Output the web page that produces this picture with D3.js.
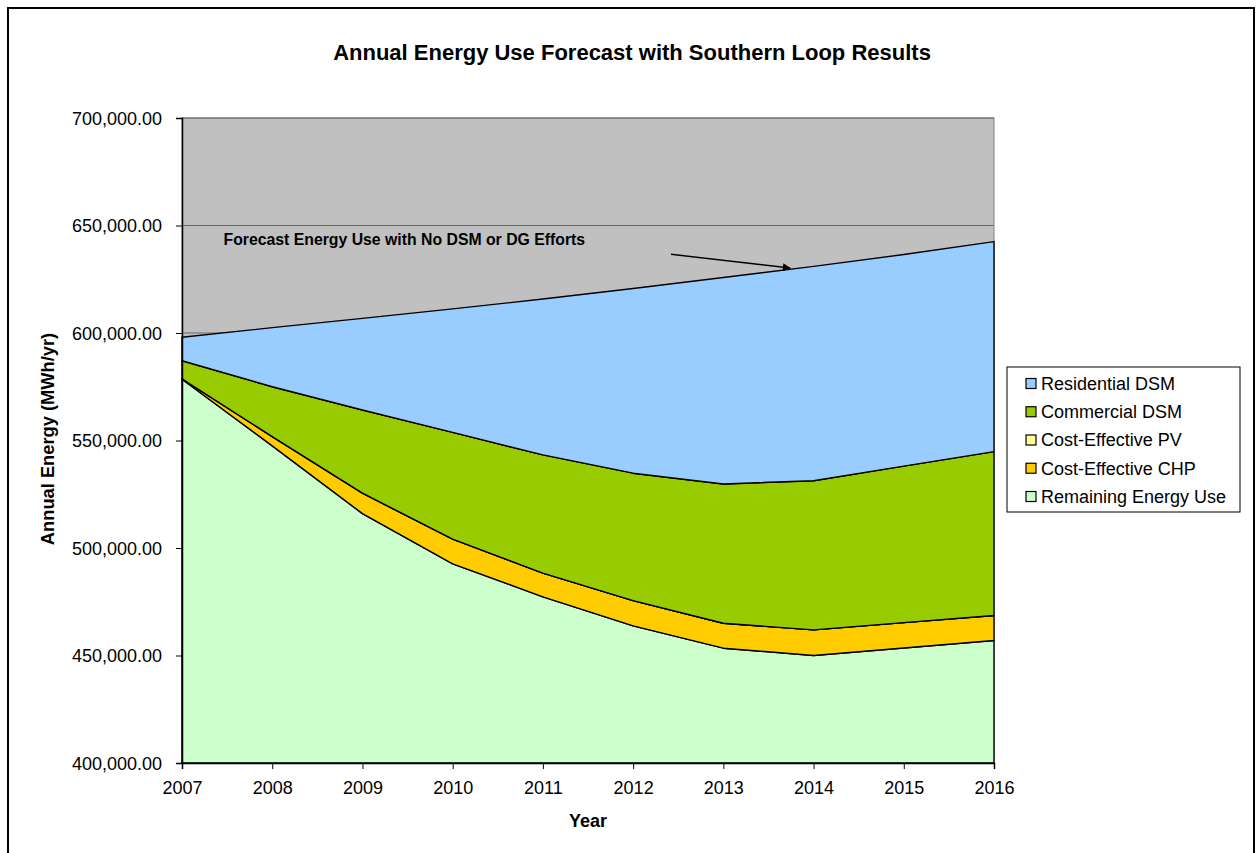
<!DOCTYPE html>
<html>
<head>
<meta charset="utf-8">
<script src="https://cdn.jsdelivr.net/npm/d3@7"></script>
<style>
  html, body { margin: 0; padding: 0; background: #fff; }
  svg { display: block; font-family: "Liberation Sans", Arial, sans-serif; }
</style>
</head>
<body>
<svg id="chart" width="1256" height="853"></svg>
<script>
// ---- data (MWh/yr, thousands) ----
const years = [2007, 2008, 2009, 2010, 2011, 2012, 2013, 2014, 2015, 2016];
const remainingEnergyUse = [578.5, 547.5, 516.0, 492.6, 477.3, 463.8, 453.4, 450.0, 453.5, 457.0];
const costEffectiveCHP   = [0.2, 4.3, 9.5, 11.5, 11.0, 11.7, 11.6, 11.9, 11.8, 11.6];
const costEffectivePV    = [0, 0, 0, 0, 0, 0, 0, 0, 0, 0];
const commercialDSM      = [8.4, 23.2, 38.7, 49.7, 55.0, 59.3, 64.8, 69.4, 72.8, 76.2];
const residentialDSM     = [10.9, 27.5, 42.6, 57.4, 72.5, 85.9, 96.0, 99.7, 98.4, 97.7];
const seriesNames  = ["Remaining Energy Use", "Cost-Effective CHP", "Cost-Effective PV", "Commercial DSM", "Residential DSM"];
const seriesColors = ["#CCFFCC", "#FFCC00", "#FFFF99", "#99CC00", "#99CCFF"];
const legendOrder  = ["Residential DSM", "Commercial DSM", "Cost-Effective PV", "Cost-Effective CHP", "Remaining Energy Use"];
const yTicks = [400, 450, 500, 550, 600, 650, 700];
const chartTitle = "Annual Energy Use Forecast with Southern Loop Results";
const yTitle = "Annual Energy (MWh/yr)";
const xTitle = "Year";
const annotationText = "Forecast Energy Use with No DSM or DG Efforts";
const annotationAnchor = [2007.46, 641];           // text start (year, value)
const arrowFrom = [2012.42, 636.6];
const arrowTo   = [2013.74, 630.2];

// ---- layout ----
const svg = d3.select("#chart");
const plot = { left: 182, right: 994, top: 118, bottom: 763 };

const x = d3.scaleLinear().domain([years[0], years[years.length - 1]]).range([plot.left, plot.right]);
const y = d3.scaleLinear().domain([400, 700]).range([plot.bottom, plot.top]);

// outer border
svg.append("rect").attr("x", 8).attr("y", 8).attr("width", 1246).attr("height", 870)
  .attr("fill", "#fff").attr("stroke", "#000").attr("stroke-width", 2);

// plot background
svg.append("rect").attr("x", plot.left).attr("y", plot.top)
  .attr("width", plot.right - plot.left).attr("height", plot.bottom - plot.top)
  .attr("fill", "#C0C0C0").attr("stroke", "#808080").attr("stroke-width", 1);

// gridlines
svg.append("g").selectAll("line").data(yTicks.slice(1)).join("line")
  .attr("x1", plot.left).attr("x2", plot.right)
  .attr("y1", d => y(d)).attr("y2", d => y(d))
  .attr("stroke", "#666").attr("stroke-width", 1);

// stack
const table = years.map((yr, i) => ({
  year: yr,
  "Remaining Energy Use": remainingEnergyUse[i],
  "Cost-Effective CHP": costEffectiveCHP[i],
  "Cost-Effective PV": costEffectivePV[i],
  "Commercial DSM": commercialDSM[i],
  "Residential DSM": residentialDSM[i]
}));
const stacked = d3.stack().keys(seriesNames)(table);
const color = d3.scaleOrdinal().domain(seriesNames).range(seriesColors);

const area = d3.area()
  .x(d => x(d.data.year))
  .y0(d => y(d[0]))
  .y1(d => y(d[1]));

// first series base is the axis floor
const areaBottom = d3.area()
  .x(d => x(d.data.year))
  .y0(() => y(400))
  .y1(d => y(d[1]));

svg.append("g").selectAll("path").data(stacked).join("path")
  .attr("d", (s, i) => i === 0 ? areaBottom(s) : area(s))
  .attr("fill", s => color(s.key))
  .attr("stroke", "#000").attr("stroke-width", 1.4)
  .attr("stroke-linejoin", "round");

// axes
const yAxis = d3.axisLeft(y).tickValues(yTicks).tickSize(6).tickPadding(14)
  .tickFormat(d => d3.format(",.2f")(d * 1000));
const gy = svg.append("g").attr("transform", `translate(${plot.left},0)`).call(yAxis);
gy.select(".domain").attr("stroke", "#000").attr("stroke-width", 1.5);
gy.selectAll(".tick line").attr("stroke", "#000");
gy.selectAll(".tick text").attr("font-size", 18).attr("fill", "#000")
  .style("font-family", "Liberation Sans, Arial, sans-serif").attr("dy", "0.35em");

const xAxis = d3.axisBottom(x).tickValues(years).tickSize(6).tickPadding(12)
  .tickFormat(d3.format("d"));
const gx = svg.append("g").attr("transform", `translate(0,${plot.bottom})`).call(xAxis);
gx.select(".domain").attr("stroke", "#000").attr("stroke-width", 1.5);
gx.selectAll(".tick line").attr("stroke", "#000");
gx.selectAll(".tick text").attr("font-size", 18).attr("fill", "#000")
  .style("font-family", "Liberation Sans, Arial, sans-serif");

// titles
svg.append("text").attr("x", 632).attr("y", 60).attr("text-anchor", "middle")
  .attr("font-size", 22).attr("font-weight", "bold").text(chartTitle);
svg.append("text").attr("x", 588).attr("y", 827).attr("text-anchor", "middle")
  .attr("font-size", 18).attr("font-weight", "bold").text(xTitle);
svg.append("text").attr("transform", "translate(54,439) rotate(-90)").attr("text-anchor", "middle")
  .attr("font-size", 18.3).attr("font-weight", "bold").text(yTitle);

// annotation
svg.append("defs").append("marker").attr("id", "arrow")
  .attr("viewBox", "0 0 10 10").attr("refX", 9).attr("refY", 5)
  .attr("markerWidth", 10).attr("markerHeight", 8).attr("markerUnits", "userSpaceOnUse")
  .attr("orient", "auto")
  .append("path").attr("d", "M0,0 L10,5 L0,10 z").attr("fill", "#000");
svg.append("text").attr("x", x(annotationAnchor[0])).attr("y", y(annotationAnchor[1]))
  .attr("font-size", 15.8).attr("font-weight", "bold").text(annotationText);
svg.append("line")
  .attr("x1", x(arrowFrom[0])).attr("y1", y(arrowFrom[1]))
  .attr("x2", x(arrowTo[0])).attr("y2", y(arrowTo[1]))
  .attr("stroke", "#000").attr("stroke-width", 1.5).attr("marker-end", "url(#arrow)");

// legend
const lg = svg.append("g");
lg.append("rect").attr("x", 1007).attr("y", 367).attr("width", 233).attr("height", 145)
  .attr("fill", "#fff").attr("stroke", "#000").attr("stroke-width", 1);
const rowY = d3.scalePoint().domain(legendOrder).range([383.5, 496.5]);
const items = lg.selectAll("g.item").data(legendOrder).join("g").attr("class", "item")
  .attr("transform", d => `translate(0,${rowY(d)})`);
items.append("rect").attr("x", 1026).attr("y", -5).attr("width", 10).attr("height", 10)
  .attr("fill", d => color(d)).attr("stroke", "#000").attr("stroke-width", 1.2);
items.append("text").attr("x", 1041).attr("y", 0).attr("dy", "0.35em")
  .attr("font-size", 18).text(d => d);
</script>
</body>
</html>
